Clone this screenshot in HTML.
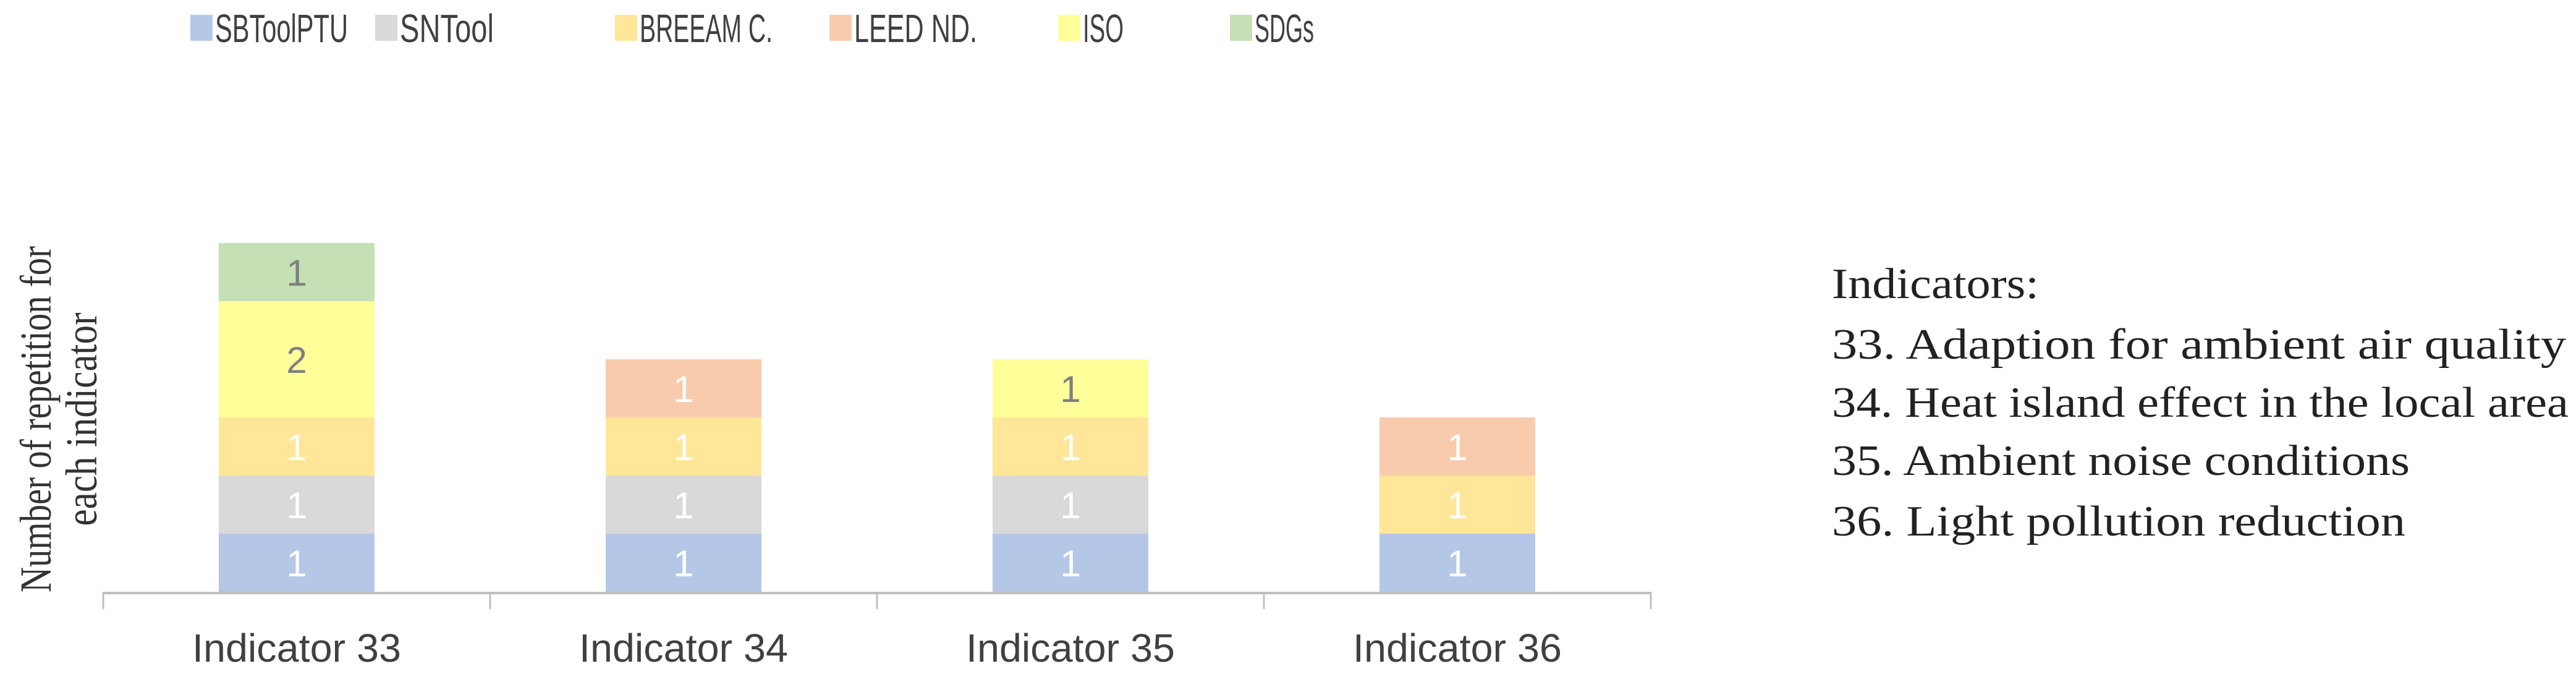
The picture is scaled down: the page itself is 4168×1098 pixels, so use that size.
<!DOCTYPE html>
<html><head><meta charset="utf-8"><style>html,body{margin:0;padding:0;background:#fff}svg{display:block}</style></head>
<body>
<svg id="chart" width="4168" height="1098" viewBox="0 0 4168 1098" xmlns="http://www.w3.org/2000/svg">
<g id="legend"></g>
<g id="plot"></g>
<text transform="translate(82,678) rotate(-90)" text-anchor="middle" font-family="Liberation Serif, serif" font-size="72" fill="#333" textLength="560" lengthAdjust="spacingAndGlyphs">Number of repetition for</text>
<text transform="translate(156,678) rotate(-90)" text-anchor="middle" font-family="Liberation Serif, serif" font-size="72" fill="#333" textLength="345" lengthAdjust="spacingAndGlyphs">each indicator</text>
<g font-family="Liberation Serif, serif" font-size="70" fill="#222">
<text x="2964" y="482" textLength="335" lengthAdjust="spacingAndGlyphs">Indicators:</text>
<text x="2964" y="580" textLength="1188" lengthAdjust="spacingAndGlyphs">33. Adaption for ambient air quality</text>
<text x="2964" y="674" textLength="1192" lengthAdjust="spacingAndGlyphs">34. Heat island effect in the local area</text>
<text x="2964" y="768" textLength="935" lengthAdjust="spacingAndGlyphs">35. Ambient noise conditions</text>
<text x="2964" y="866" textLength="928" lengthAdjust="spacingAndGlyphs">36. Light pollution reduction</text>
</g>
</svg>
<script>
const categories = ["Indicator 33","Indicator 34","Indicator 35","Indicator 36"];
const seriesNames = ["SBToolPTU","SNTool","BREEAM C.","LEED ND.","ISO","SDGs"];
const sbtoolptu = [1,1,1,1];
const sntool = [1,1,1,0];
const breeam = [1,1,1,1];
const leed = [0,1,0,1];
const iso = [2,0,1,0];
const sdgs = [1,0,0,0];
const seriesValues = [sbtoolptu, sntool, breeam, leed, iso, sdgs];
const colors = ["#b4c7e7","#d9d9d9","#ffe699","#f8cbad","#ffff99","#c5e0b4"];
const labelColors = ["#fff","#fff","#fff","#fff","#7f7f7f","#7f7f7f"];
const legendX = [308, 607, 995, 1342, 1712, 1990];
const legendW = [215, 152, 215, 199, 66, 96];

const NS = "http://www.w3.org/2000/svg";
const plot = document.getElementById('plot');
const legend = document.getElementById('legend');
const baseY = 957, unit = 94, axisX0 = 167, band = 626, barW = 252;
const yScale = v => baseY - v * unit;
const xCenter = i => axisX0 + band * (i + 0.5);
function mk(tag, attrs, parent){const e=document.createElementNS(NS,tag);for(const k in attrs)e.setAttribute(k,attrs[k]);parent.appendChild(e);return e;}

seriesNames.forEach((n, s) => {
  const r = mk('rect', {x: legendX[s], y: 24, width: 36, height: 42, fill: colors[s]}, legend);
  
  
  const t = mk('text', {x: legendX[s] + 40, y: 68, 'font-family': 'Liberation Sans, sans-serif', 'font-size': 64, fill: '#404040', textLength: legendW[s], lengthAdjust: 'spacingAndGlyphs'}, legend);
  t.textContent = n;
  
  
});

categories.forEach((c, i) => {
  let cum = 0;
  seriesValues.forEach((vals, s) => {
    const v = vals[i];
    if (!v) return;
    const y1 = yScale(cum + v), y0 = yScale(cum);
    const r = mk('rect', {x: xCenter(i) - barW/2, y: y1, width: barW, height: y0 - y1, fill: colors[s]}, plot);
    
    
    const t = mk('text', {x: xCenter(i), y: (y0 + y1)/2 + 22, 'text-anchor': 'middle', 'font-family': 'Liberation Sans, sans-serif', 'font-size': 60, fill: labelColors[s]}, plot);
    t.textContent = v;
    
    
    cum += v;
  });
  const l = mk('text', {x: xCenter(i), y: 1070, 'text-anchor': 'middle', 'font-family': 'Liberation Sans, sans-serif', 'font-size': 64, fill: '#404040', textLength: 338, lengthAdjust: 'spacingAndGlyphs'}, plot);
  l.textContent = c;
  
  
});

const ax = mk('line', {x1: axisX0, x2: axisX0 + band * categories.length, y1: baseY + 2, y2: baseY + 2, stroke: '#bfbfbf', 'stroke-width': 4}, plot);


for (let i = 0; i <= categories.length; i++) {
  const tk = mk('line', {x1: axisX0 + band*i, x2: axisX0 + band*i, y1: baseY, y2: baseY + 28, stroke: '#bfbfbf', 'stroke-width': 3}, plot);
  
  
}
</script>
</body></html>
